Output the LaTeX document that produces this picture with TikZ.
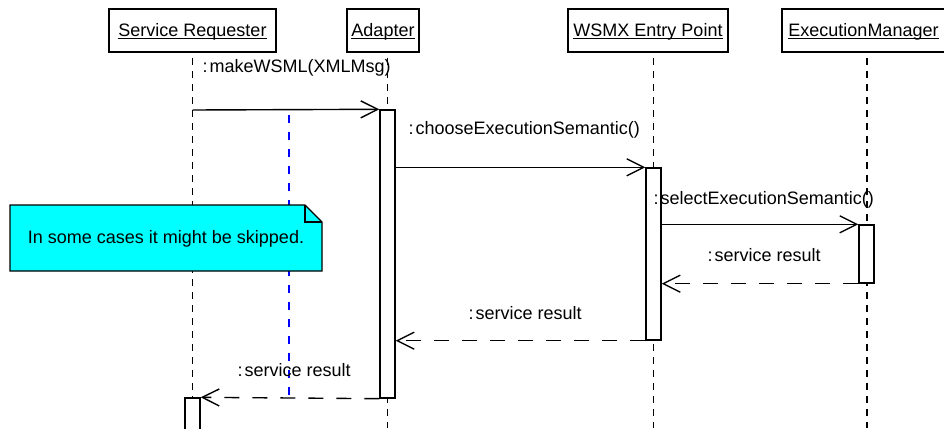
\documentclass[tikz,border=0pt]{standalone}
\usepackage{fontspec}
\setmainfont{Liberation Sans}
\usetikzlibrary{arrows.meta,calc}
\definecolor{notecyan}{RGB}{0,255,255}
% underlined object name, with the rule sitting just under the baseline
\newcommand\ulname[1]{\setbox0\hbox{#1}\rlap{\rule[-2pt]{\wd0}{0.9pt}}\box0}
\begin{document}
\begin{tikzpicture}[x=1pt,y=-1pt,font=\fontsize{18}{21}\selectfont,line width=1.4pt,
  head/.style={draw,fill=white,inner sep=0pt,text height=13pt,text depth=0pt,minimum height=43pt},
  act/.style={draw,fill=white,inner sep=0pt,minimum width=15pt},
  life/.style={dash pattern=on 7pt off 6pt},
  guide/.style={blue,dash pattern=on 8pt off 9pt},
  call/.style={-{Straight Barb[length=17pt,width=17pt]}},
  reply/.style={call,dash pattern=on 15pt off 13pt},
  lbl/.style={anchor=base west,inner sep=0pt},
  notebox/.style={draw,fill=notecyan}]
\useasboundingbox (0,0) rectangle (944,428);

% object heads
\node[head,minimum width=167pt] (hS) at (192.5,30.5) {\ulname{Service Requester}};
\node[head,minimum width=72pt]  (hA) at (383,30.5)   {\ulname{Adapter}};
\node[head,minimum width=160pt] (hW) at (648,30.5)   {\ulname{WSMX Entry Point}};
\node[head,minimum width=163pt] (hE) at (863.5,30.5) {\ulname{ExecutionManager}};

% lifelines
\coordinate (sT) at (192.5,58); \coordinate (sB) at (192.5,428);
\coordinate (aT) at (387.5,58); \coordinate (aB) at (387.5,428);
\coordinate (wT) at (653.5,58); \coordinate (wB) at (653.5,428);
\coordinate (eT) at (867,58);   \coordinate (eB) at (867,428);
\draw[life] (sT) -- (sB);
\draw[life] (aT) -- (aB);
\draw[life] (wT) -- (wB);
\draw[life] (eT) -- (eB);

% blue dashed guide
\coordinate (gT) at (289,115); \coordinate (gB) at (289,395);
\draw[guide] (gT) -- (gB);

% note with folded corner
\coordinate (nNW) at (10,205); \coordinate (nSE) at (322,271);
\filldraw[notebox] (nNW) -- ($(nNW -| nSE)+(-17,0)$) -- ($(nNW -| nSE)+(0,17)$)
  -- (nSE) -- (nNW |- nSE) -- cycle;
\draw ($(nNW -| nSE)+(-17,0)$) |- ($(nNW -| nSE)+(0,17)$);
\node[anchor=base,inner sep=0pt] (note) at (166,243) {In some cases it might be skipped.};

% activation bars
\node[act,minimum height=288pt] (actA) at (387.5,254) {};
\node[act,minimum height=172pt] (actW) at (653.5,254) {};
\node[act,minimum height=58pt]  (actE) at (866.5,254) {};
\node[act,minimum height=60pt]  (actS) at (192.5,428) {};

% messages
\coordinate (m1) at (192.5,110);
\draw[call] (m1) -- (actA.north west);
\draw[call] (actA.east |- actW.north) -- (actW.north west);
\draw[call] (actW.east |- actE.north) -- (actE.north west);
\draw[reply] (actE.south west) -- (actW.east |- actE.south);
\draw[reply] (actW.south west) -- (actA.east |- actW.south);
\draw[reply] (actA.south west) -- (actS.north east);

% message labels
\node[lbl] (l1) at (202,72)  {:\kern2pt makeWSML(XMLMsg)};
\node[lbl] (l2) at (408,134) {:\kern2pt chooseExecutionSemantic()};
\node[lbl] (l3) at (653,204) {:\kern2pt selectExecutionSemantic()};
\node[lbl] (l4) at (707,261) {:\kern2pt service result};
\node[lbl] (l5) at (468,319) {:\kern2pt service result};
\node[lbl] (l6) at (237,376) {:\kern2pt service result};
\end{tikzpicture}
\end{document}
